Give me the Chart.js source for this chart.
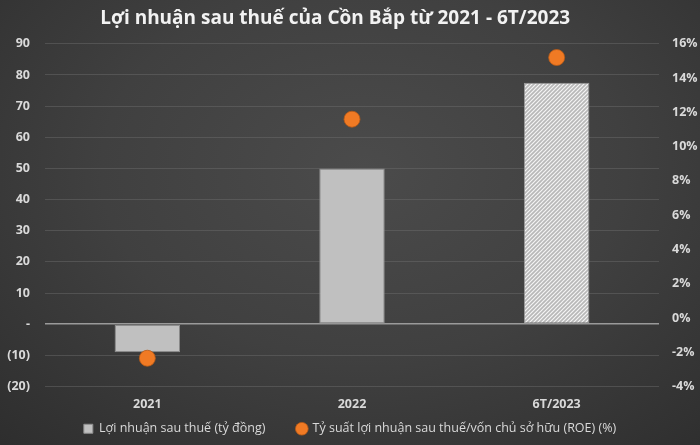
<!DOCTYPE html>
<html>
<head>
<meta charset="utf-8">
<script src="https://cdn.jsdelivr.net/npm/chart.js@4/dist/chart.umd.min.js"></script>
<style>
  html, body { margin: 0; padding: 0; }
  body {
    width: 700px; height: 445px; overflow: hidden;
    background: radial-gradient(ellipse 75% 85% at 52% 38%, #4b4b4b 0%, #404040 50%, #2e2e2e 100%);
  }
  #wrap { position: relative; width: 700px; height: 445px; }
</style>
</head>
<body>
<div id="wrap"><canvas id="profitChart" width="700" height="445"></canvas></div>
<script>
// ── data ──
const categories = ['2021', '2022', '6T/2023'];
const profitValues = [-9, 50, 77.5];        // tỷ đồng
const roeValues = [-2.35, 11.6, 15.2];      // %
const profitLabel = 'Lợi nhuận sau thuế (tỷ đồng)';
const roeLabel = 'Tỷ suất lợi nhuận sau thuế/vốn chủ sở hữu (ROE) (%)';
const titleText = 'Lợi nhuận sau thuế của Cồn Bắp từ 2021 - 6T/2023';

const FONT = "'Open Sans', sans-serif";
const TEXT = '#d9d9d9';

// hatched fill for the half-year bar
function makeHatch() {
  const c = document.createElement('canvas');
  c.width = 4; c.height = 4;
  const g = c.getContext('2d');
  g.fillStyle = '#b8b8b8';
  g.fillRect(0, 0, 4, 4);
  g.strokeStyle = '#f4f4f4';
  g.lineWidth = 1.2;
  g.beginPath();
  g.moveTo(0, 4); g.lineTo(4, 0);
  g.moveTo(-1, 1); g.lineTo(1, -1);
  g.moveTo(3, 5); g.lineTo(5, 3);
  g.stroke();
  return g.createPattern(c, 'repeat');
}

const ctx = document.getElementById('profitChart').getContext('2d');
new Chart(ctx, {
  type: 'bar',
  data: {
    labels: categories,
    datasets: [
      {
        type: 'line',
        label: roeLabel,
        data: roeValues,
        yAxisID: 'yRight',
        showLine: false,
        pointStyle: 'circle',
        pointRadius: 8,
        pointHoverRadius: 8,
        pointBackgroundColor: '#f07a24',
        pointBorderColor: '#b85a16',
        pointBorderWidth: 0.8,
        backgroundColor: '#f07a24',
        borderColor: '#f07a24',
        order: 0
      },
      {
        type: 'bar',
        label: profitLabel + '\u00a0\u00a0\u00a0\u00a0\u00a0\u00a0\u00a0\u00a0',
        data: profitValues,
        yAxisID: 'yLeft',
        backgroundColor: ['#c0c0c0', '#c0c0c0', makeHatch()],
        borderColor: ['#8d8d8d', '#8d8d8d', '#9a9a9a'],
        borderWidth: 1,
        borderSkipped: false,
        pointStyle: 'rect',
        barPercentage: 0.32,
        categoryPercentage: 1,
        order: 1
      }
    ]
  },
  options: {
    responsive: false,
    animation: false,
    devicePixelRatio: 1,
    layout: { padding: { top: 2, bottom: 0, left: 0, right: 0 } },
    scales: {
      x: {
        grid: { display: false, drawTicks: false },
        border: { display: false },
        ticks: { color: TEXT, font: { family: FONT, size: 12.5, weight: 'bold' }, padding: 10 },
        afterFit: s => { s.height = 30; }
      },
      yLeft: {
        position: 'left',
        min: -20, max: 90,
        ticks: {
          stepSize: 10,
          color: TEXT,
          padding: 15,
          font: { family: FONT, size: 12.5, weight: 'bold' },
          callback: v => v === 0 ? '-' : (v < 0 ? '(' + Math.abs(v) + ')' : v)
        },
        grid: {
          color: c => c.tick && c.tick.value === 0 ? '#9a9a9a' : 'rgba(110,110,110,0.45)',
          lineWidth: c => c.tick && c.tick.value === 0 ? 1.5 : 1,
          drawTicks: false
        },
        border: { display: false },
        afterFit: s => { s.width = 45; }
      },
      yRight: {
        position: 'right',
        min: -4, max: 16,
        ticks: {
          stepSize: 2,
          color: TEXT,
          padding: 13,
          font: { family: FONT, size: 12.5, weight: 'bold' },
          callback: v => v + '%'
        },
        grid: { display: false, drawTicks: false },
        border: { display: false },
        afterFit: s => { s.width = 41; }
      }
    },
    plugins: {
      title: {
        display: true,
        text: titleText + '\u00a0\u00a0\u00a0\u00a0\u00a0\u00a0',
        color: '#f2f2f2',
        font: { family: FONT, size: 19, weight: 'bold' },
        padding: { top: 5, bottom: 14 }
      },
      legend: {
        position: 'bottom',
        reverse: true,
        labels: {
          color: TEXT,
          usePointStyle: true,
          boxWidth: 9,
          boxHeight: 9,
          padding: 6,
          font: { family: FONT, size: 12.5 }
        }
      },
      tooltip: { enabled: false }
    }
  }
});
</script>
</body>
</html>
